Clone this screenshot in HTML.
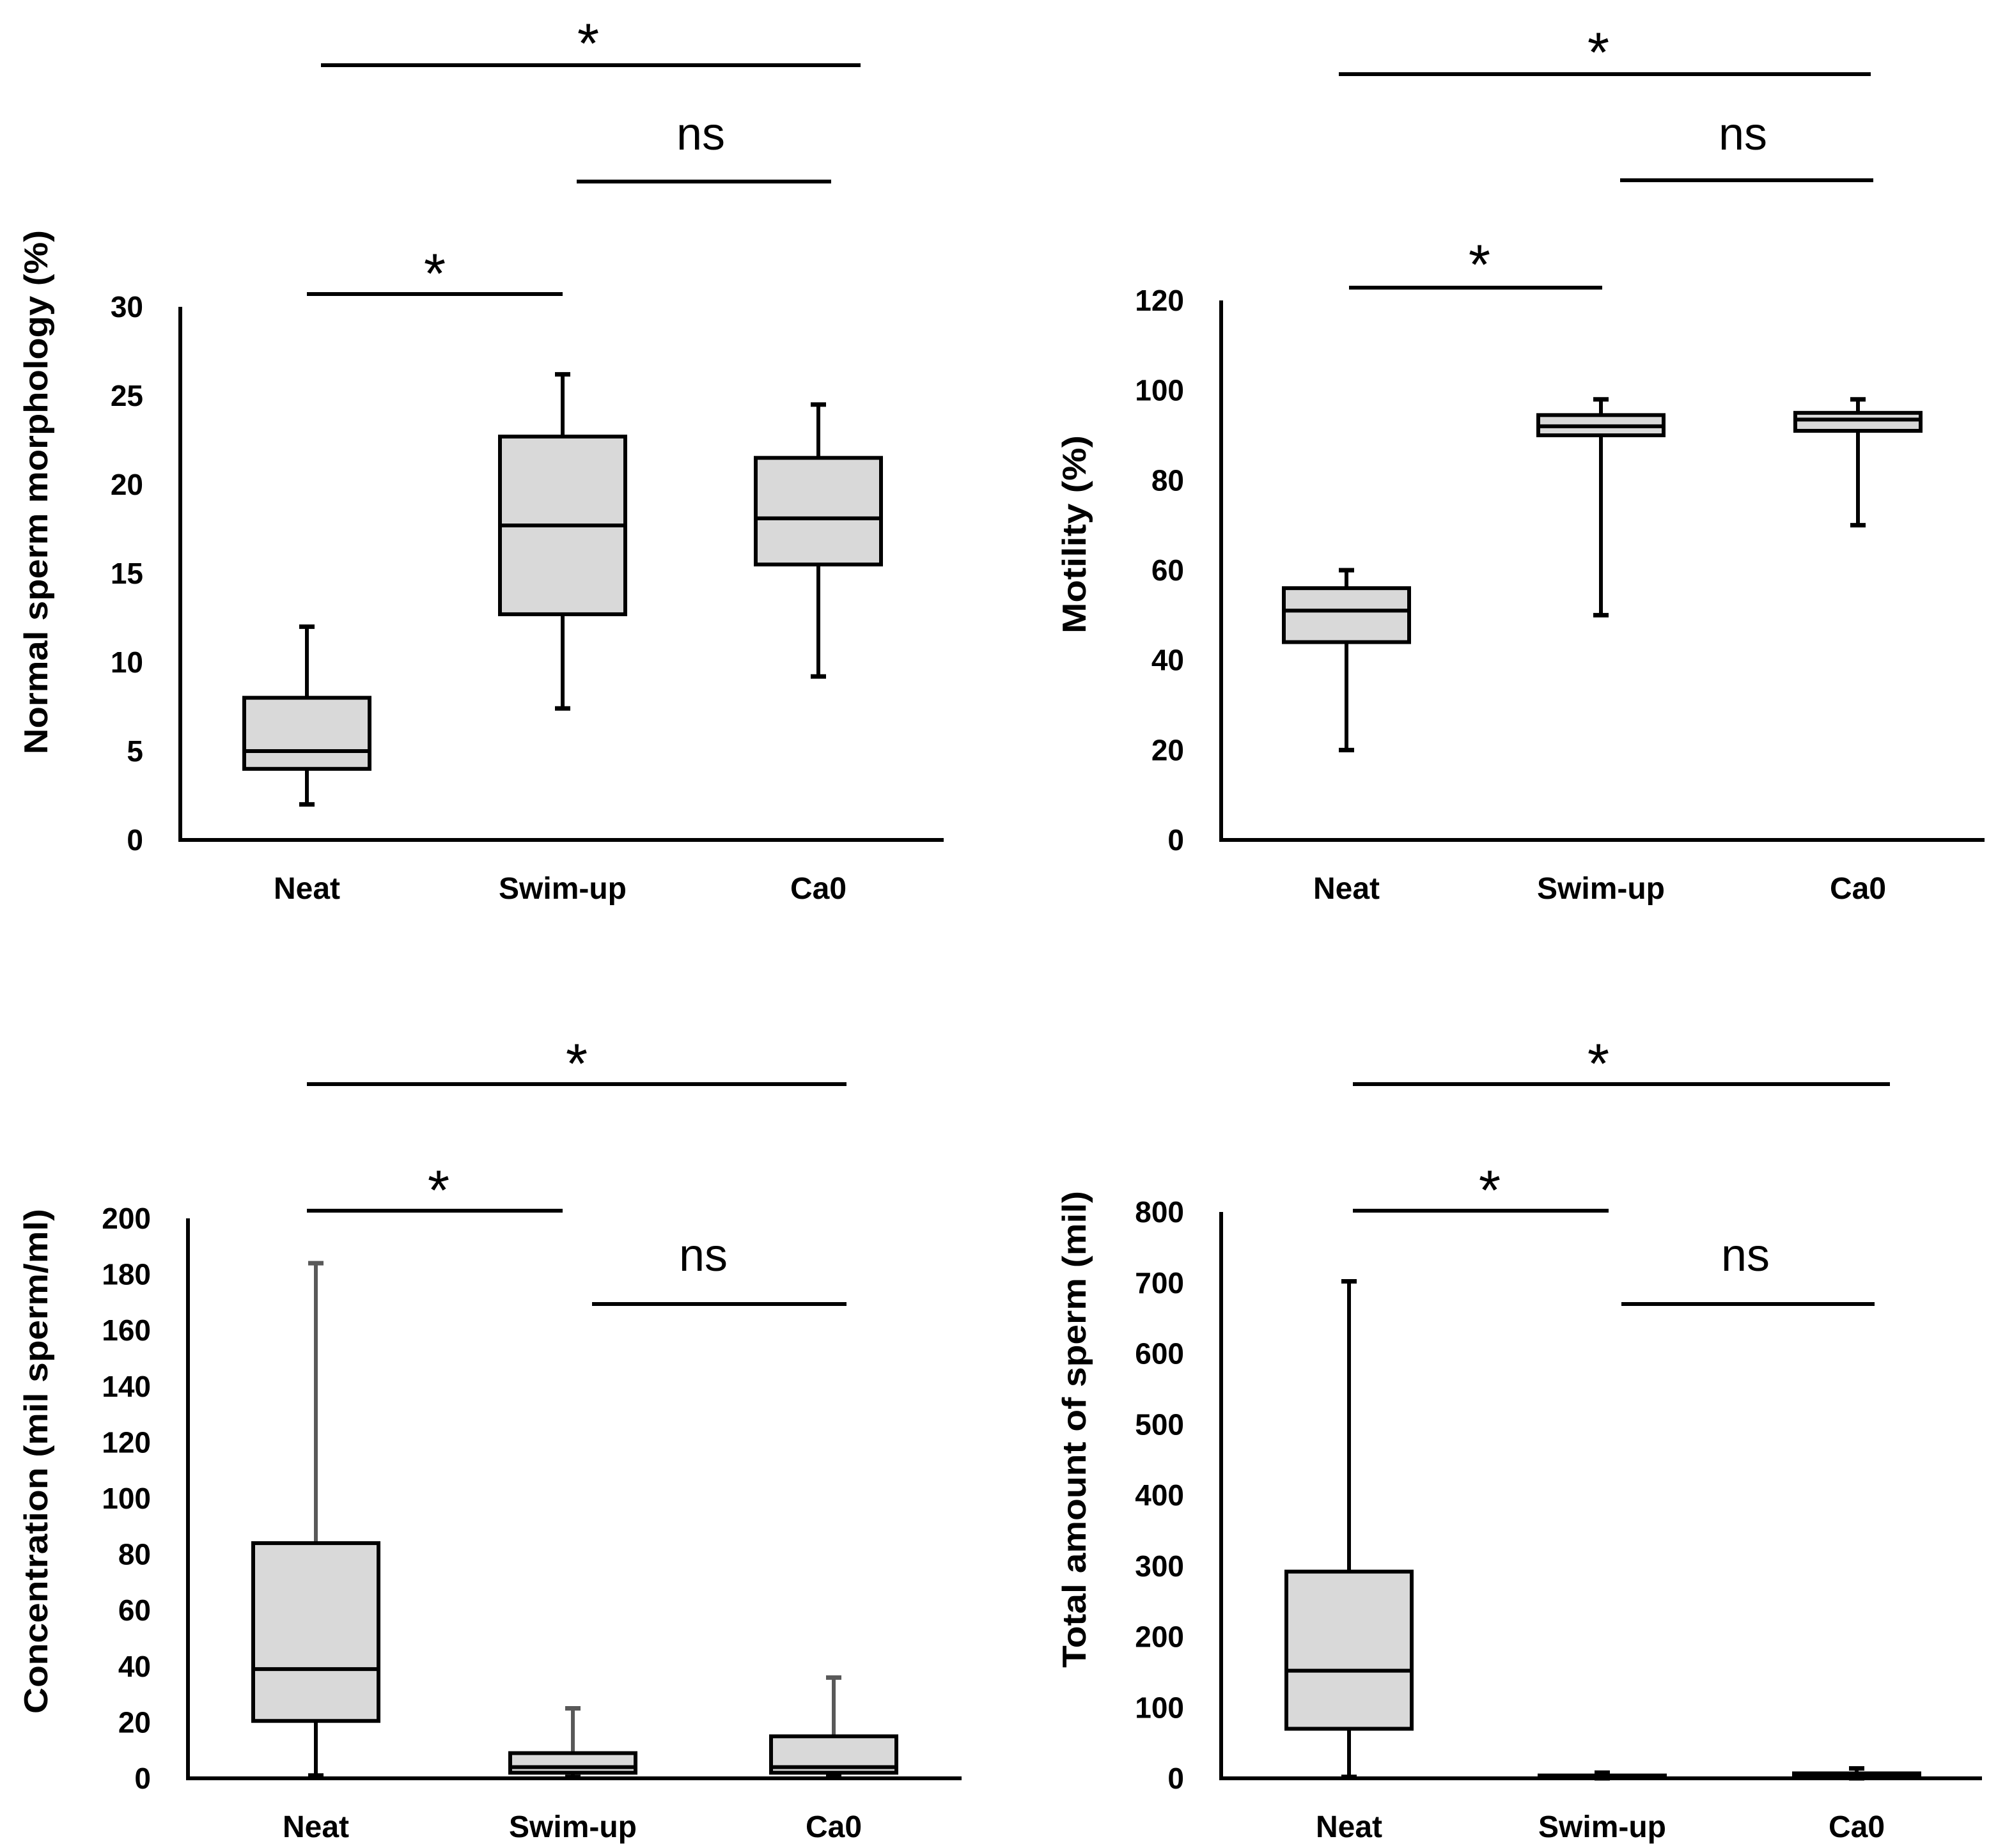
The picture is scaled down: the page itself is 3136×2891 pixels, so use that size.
<!DOCTYPE html>
<html><head><meta charset="utf-8"><style>
html,body{margin:0;padding:0;background:#fff;}
svg{display:block;}
text{font-family:"Liberation Sans",Arial,sans-serif;fill:#000;}
</style></head>
<body>
<svg id="chart" width="3136" height="2891" viewBox="0 0 1568 1445.5" xmlns="http://www.w3.org/2000/svg"></svg>
<script>
const categories = ["Neat","Swim-up","Ca0"];
// [whiskerLow, q1, median, q3, whiskerHigh]
const morphologyStats = [[2,4,5,8,12],[7.4,12.7,17.7,22.7,26.2],[9.2,15.5,18.1,21.5,24.5]];
const morphologyTicks = [0,5,10,15,20,25,30];
const motilityStats = [[20,44,51,56,60],[50,90,92,94.5,98],[70,91,93.5,95,98]];
const motilityTicks = [0,20,40,60,80,100,120];
const concentrationStats = [[1,20.5,39,84,184],[0.5,2,4,9,25],[1,2,4,15,36]];
const concentrationTicks = [0,20,40,60,80,100,120,140,160,180,200];
const totalStats = [[2,70,152,292,702],[0,1,2,4,8],[0,2,4,7,14]];
const totalTicks = [0,100,200,300,400,500,600,700,800];

const NS="http://www.w3.org/2000/svg";
const svg=document.getElementById('chart');
function el(tag,attrs,parent){const e=document.createElementNS(NS,tag);for(const k in attrs)e.setAttribute(k,attrs[k]);(parent||svg).appendChild(e);return e;}

const panels=[
 {id:"morphology",stats:morphologyStats,ticks:morphologyTicks,title:"Normal sperm morphology (%)",ax:141,top:240,bot:657,right:738,xs:[240,440,640],titleX:28,titleY:385,titleLen:410,
  sig:[[240,440,230,"*",205,340],[451,650,142,"ns",105,548],[251,673,51,"*",25,460]],grey:false},
 {id:"motility",stats:motilityStats,ticks:motilityTicks,title:"Motility (%)",ax:955,top:235,bot:657,right:1552,xs:[1053,1252,1453],titleX:840,titleY:418,titleLen:155,
  sig:[[1055,1253,225,"*",198,1157],[1267,1465,141,"ns",105,1363],[1047,1463,58,"*",32,1250]],grey:false},
 {id:"concentration",stats:concentrationStats,ticks:concentrationTicks,title:"Concentration (mil sperm/ml)",ax:147,top:953,bot:1391,right:752,xs:[247,448,652],titleX:28,titleY:1143,titleLen:395,
  sig:[[240,440,947,"*",922,343],[463,662,1020,"ns",982,550],[240,662,848,"*",823,451]],grey:true},
 {id:"total-sperm",stats:totalStats,ticks:totalTicks,title:"Total amount of sperm (mil)",ax:955,top:948,bot:1391,right:1550,xs:[1055,1253,1452],titleX:840,titleY:1118,titleLen:373,
  sig:[[1058,1258,947,"*",922,1165],[1268,1466,1020,"ns",982,1365],[1058,1478,848,"*",823,1250]],grey:false}
];

panels.forEach(p=>{
  const g=el('g',{});
  
  
  const maxT=p.ticks[p.ticks.length-1];
  const y=v=>p.bot-(v/maxT)*(p.bot-p.top);
  const ya=el('line',{x1:p.ax,y1:p.top,x2:p.ax,y2:p.bot+1.5,stroke:'#000','stroke-width':3},g);
  
  
  const xa=el('line',{x1:p.ax-1.5,y1:p.bot,x2:p.right,y2:p.bot,stroke:'#000','stroke-width':3},g);
  
  
  p.ticks.forEach(t=>{
    const tx=el('text',{x:p.ax-29,y:y(t)+8,'text-anchor':'end','font-size':23,'font-weight':'bold'},g);
    tx.textContent=t;
    
    
  });
  const tt=el('text',{x:p.titleX,y:p.titleY,'text-anchor':'middle','font-size':26,'font-weight':'bold',transform:`rotate(-90 ${p.titleX} ${p.titleY})`,dy:9,textLength:p.titleLen,lengthAdjust:'spacingAndGlyphs'},g);
  tt.textContent=p.title;
  
  
  categories.forEach((c,i)=>{
    const cx=p.xs[i];
    const lb=el('text',{x:cx,y:p.bot+46,'text-anchor':'middle','font-size':24,'font-weight':'bold'},g);
    lb.textContent=c;
    
    
    const s=p.stats[i];
    const bg=el('g',{},g);
    
    
    const uc=p.grey?'#595959':'#000';
    el('line',{x1:cx,y1:y(s[4]),x2:cx,y2:y(s[3]),stroke:uc,'stroke-width':3},bg);
    el('line',{x1:cx-6,y1:y(s[4]),x2:cx+6,y2:y(s[4]),stroke:uc,'stroke-width':3.5},bg);
    el('line',{x1:cx,y1:y(s[1]),x2:cx,y2:y(s[0]),stroke:'#000','stroke-width':3},bg);
    el('line',{x1:cx-6,y1:y(s[0]),x2:cx+6,y2:y(s[0]),stroke:'#000','stroke-width':3.5},bg);
    el('rect',{x:cx-49,y:y(s[3]),width:98,height:Math.max(y(s[1])-y(s[3]),1),fill:'#d9d9d9',stroke:'#000','stroke-width':3},bg);
    el('line',{x1:cx-49,y1:y(s[2]),x2:cx+49,y2:y(s[2]),stroke:'#000','stroke-width':3},bg);
  });
  p.sig.forEach(sg=>{
    const l=el('line',{x1:sg[0],y1:sg[2],x2:sg[1],y2:sg[2],stroke:'#000','stroke-width':3},g);
    
    
    const isStar=sg[3]==='*';
    const t=el('text',{x:sg[5],y:isStar?sg[4]+24:sg[4]+12,'text-anchor':'middle','font-size':isStar?44:36},g);
    t.textContent=sg[3];
    
    
  });
});
</script>
</body></html>
